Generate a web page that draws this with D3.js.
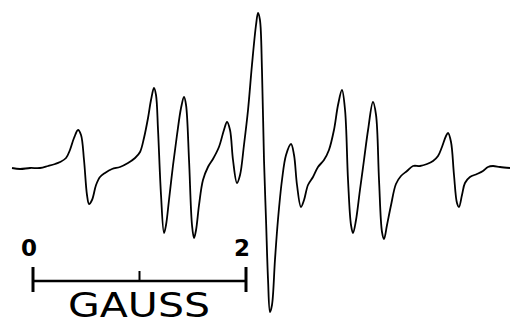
<!DOCTYPE html>
<html>
<head>
<meta charset="utf-8">
<script src="https://cdn.jsdelivr.net/npm/d3@7"></script>
<style>
  body { margin: 0; background: #fff; }
  svg { display: block; }
</style>
</head>
<body>
<script>
// field offset in gauss (0 and 2 are the ends of the scale bar)
const field = [-0.197, -0.122, -0.028, 0.066, 0.141, 0.207, 0.254, 0.310, 0.347, 0.385,
  0.423, 0.451, 0.479, 0.507, 0.526, 0.554, 0.592, 0.629, 0.676, 0.742,
  0.817, 0.892, 0.958, 1.005, 1.042, 1.080, 1.108, 1.136, 1.155, 1.174,
  1.202, 1.230, 1.249, 1.277, 1.315, 1.352, 1.390, 1.418, 1.437, 1.465,
  1.493, 1.512, 1.531, 1.559, 1.596, 1.643, 1.690, 1.746, 1.793, 1.822,
  1.850, 1.878, 1.915, 1.944, 1.981, 2.019, 2.056, 2.094, 2.113, 2.131,
  2.150, 2.169, 2.188, 2.207, 2.225, 2.244, 2.272, 2.300, 2.338, 2.376,
  2.423, 2.451, 2.479, 2.516, 2.545, 2.582, 2.629, 2.676, 2.732, 2.779,
  2.826, 2.864, 2.901, 2.930, 2.958, 2.986, 3.005, 3.033, 3.070, 3.108,
  3.146, 3.192, 3.221, 3.249, 3.277, 3.296, 3.324, 3.362, 3.408, 3.455,
  3.512, 3.568, 3.634, 3.700, 3.756, 3.803, 3.840, 3.878, 3.897, 3.925,
  3.953, 3.981, 4.000, 4.028, 4.056, 4.103, 4.169, 4.225, 4.272, 4.319,
  4.385, 4.479];

// derivative signal, arbitrary units
const signal = [0, -1, 0, 0, 2, 4, 6, 10, 18, 30,
  38, 33, 8, -27, -36, -32, -17, -9, -5, -1,
  1, 5, 10, 16, 30, 50, 68, 80, 73, 38,
  -27, -65, -57, -32, 3, 33, 60, 71, 63, 8,
  -57, -70, -62, -37, -12, 1, 9, 21, 38, 46,
  38, 8, -15, -7, 23, 58, 103, 143, 155, 148,
  98, 8, -52, -112, -144, -137, -92, -52, -12, 13,
  24, 13, -17, -39, -32, -17, -9, 1, 8, 18,
  38, 63, 78, 58, -12, -57, -65, -52, -22, 8,
  38, 66, 53, -12, -64, -71, -57, -37, -16, -8,
  -3, 2, 2, 4, 7, 12, 21, 32, 35, 26,
  -7, -35, -39, -27, -15, -9, -6, -3, 1, 2,
  1, 0];

const barTicks = [0, 1, 2];
const barLabels = ['0', '', '2'];
const unitLabel = 'GAUSS';

const w = 510;
const h = 326;

const xScale = d3.scaleLinear().domain([0, 2]).range([33, 246]);
const yScale = d3.scaleLinear().domain([-160, 168]).range([328, 0]);

const svg = d3.select('body')
  .append('svg')
  .attr('width', w)
  .attr('height', h);

const line = d3.line()
  .x((d, i) => xScale(field[i]))
  .y((d) => yScale(d))
  .curve(d3.curveCatmullRom.alpha(0.5));

svg.append('path')
  .datum(signal)
  .attr('d', line)
  .attr('fill', 'none')
  .attr('stroke', '#000')
  .attr('stroke-width', 1.8)
  .attr('stroke-linejoin', 'round');

// scale bar
const barY = 281;
const bar = svg.append('g');

bar.append('line')
  .attr('x1', xScale(0)).attr('x2', xScale(2))
  .attr('y1', barY).attr('y2', barY)
  .attr('stroke', '#000').attr('stroke-width', 2.5);

bar.selectAll('.tick')
  .data(barTicks)
  .enter()
  .append('line')
  .attr('class', 'tick')
  .attr('x1', (d) => xScale(d)).attr('x2', (d) => xScale(d))
  .attr('y1', (d, i) => i === 1 ? 271 : 267)
  .attr('y2', (d, i) => i === 1 ? barY : 292)
  .attr('stroke', '#000')
  .attr('stroke-width', (d, i) => i === 1 ? 2 : 3);

bar.selectAll('.lbl')
  .data(barTicks)
  .enter()
  .append('text')
  .attr('class', 'lbl')
  .attr('x', (d) => xScale(d) - 4)
  .attr('y', 256)
  .attr('text-anchor', 'middle')
  .attr('font-family', 'DejaVu Sans, sans-serif')
  .attr('font-weight', 'bold')
  .attr('font-size', 23)
  .text((d, i) => barLabels[i]);

bar.append('text')
  .attr('x', 68)
  .attr('y', 317)
  .attr('font-family', 'DejaVu Sans, sans-serif')
  .attr('font-size', 33)
  .attr('textLength', 142)
  .attr('lengthAdjust', 'spacingAndGlyphs')
  .text(unitLabel);
</script>
</body>
</html>
